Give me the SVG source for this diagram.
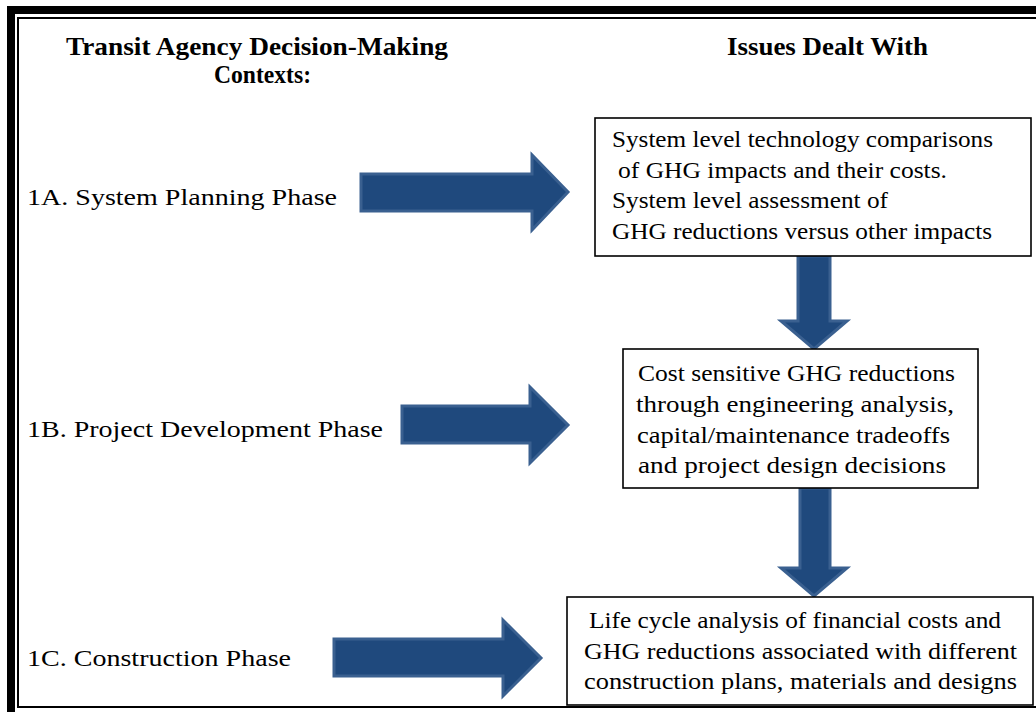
<svg xmlns="http://www.w3.org/2000/svg" width="1036" height="712" viewBox="0 0 1036 712">
<style>
.hdr{font-family:"Liberation Serif","Times New Roman",Times,serif;font-weight:bold;font-size:26px;fill:#000}
.lbl{font-family:"Liberation Serif","Times New Roman",Times,serif;font-size:23px;fill:#000}
.txt{font-family:"Liberation Serif","Times New Roman",Times,serif;font-size:23px;fill:#000}
.box{fill:#fff;stroke:#000;stroke-width:1.6}
.arr{fill:#1F497D;stroke:#3A6090;stroke-width:3;stroke-linejoin:miter}
</style>
<rect x="0" y="0" width="1036" height="712" fill="#fff"/>
<g id="frame">
<rect x="11" y="10" width="1040" height="720" fill="none" stroke="#000" stroke-width="8"/>
<rect x="18" y="18" width="1030" height="689" fill="none" stroke="#000" stroke-width="2"/>
</g>
<g id="headers">
<text class="hdr" x="66" y="55" textLength="382" lengthAdjust="spacingAndGlyphs">Transit Agency  Decision-Making</text>
<text class="hdr" x="214" y="83" textLength="97" lengthAdjust="spacingAndGlyphs">Contexts:</text>
<text class="hdr" x="727" y="55" textLength="201" lengthAdjust="spacingAndGlyphs">Issues Dealt With</text>
</g>
<g id="label-1A"><text class="lbl" x="27" y="205" textLength="310" lengthAdjust="spacingAndGlyphs">1A. System Planning Phase</text></g>
<g id="label-1B"><text class="lbl" x="27" y="437" textLength="356" lengthAdjust="spacingAndGlyphs">1B. Project Development Phase</text></g>
<g id="label-1C"><text class="lbl" x="27" y="666" textLength="264" lengthAdjust="spacingAndGlyphs">1C. Construction Phase</text></g>
<g id="connectors">
<polygon class="arr" points="361,174 532,174 532,155 568,192 532,230 532,211 361,211"/>
<polygon class="arr" points="402,406 530,406 530,387 568,425 530,463 530,443 402,443"/>
<polygon class="arr" points="334,639 503,639 503,620 541,658 503,696 503,676 334,676"/>
<polygon class="arr" points="798,256 830,256 830,321 847,321 814,349 781,321 798,321"/>
<polygon class="arr" points="800,488 830,488 830,568 847,568 814,596 781,568 800,568"/>
</g>
<g id="box-1">
<rect class="box" x="595" y="118" width="436" height="138"/>
<text class="txt" x="612" y="147" textLength="381" lengthAdjust="spacingAndGlyphs">System level technology comparisons</text>
<text class="txt" x="618" y="178" textLength="329" lengthAdjust="spacingAndGlyphs">of GHG impacts and their costs.</text>
<text class="txt" x="612" y="208" textLength="276" lengthAdjust="spacingAndGlyphs">System level assessment of</text>
<text class="txt" x="612" y="239" textLength="380" lengthAdjust="spacingAndGlyphs">GHG reductions versus other impacts</text>
</g>
<g id="box-2">
<rect class="box" x="623" y="349" width="355" height="139"/>
<text class="txt" x="638" y="381" textLength="317" lengthAdjust="spacingAndGlyphs">Cost sensitive GHG reductions</text>
<text class="txt" x="636" y="412" textLength="318" lengthAdjust="spacingAndGlyphs">through engineering analysis,</text>
<text class="txt" x="637" y="443" textLength="313" lengthAdjust="spacingAndGlyphs">capital/maintenance tradeoffs</text>
<text class="txt" x="638" y="473" textLength="308" lengthAdjust="spacingAndGlyphs">and project design decisions</text>
</g>
<g id="box-3">
<rect class="box" x="567" y="597" width="466" height="108"/>
<text class="txt" x="589" y="628" textLength="412" lengthAdjust="spacingAndGlyphs">Life cycle analysis of financial costs and</text>
<text class="txt" x="584" y="659" textLength="433" lengthAdjust="spacingAndGlyphs">GHG reductions associated with different</text>
<text class="txt" x="584" y="689" textLength="433" lengthAdjust="spacingAndGlyphs">construction plans, materials and designs</text>
</g>
</svg>
